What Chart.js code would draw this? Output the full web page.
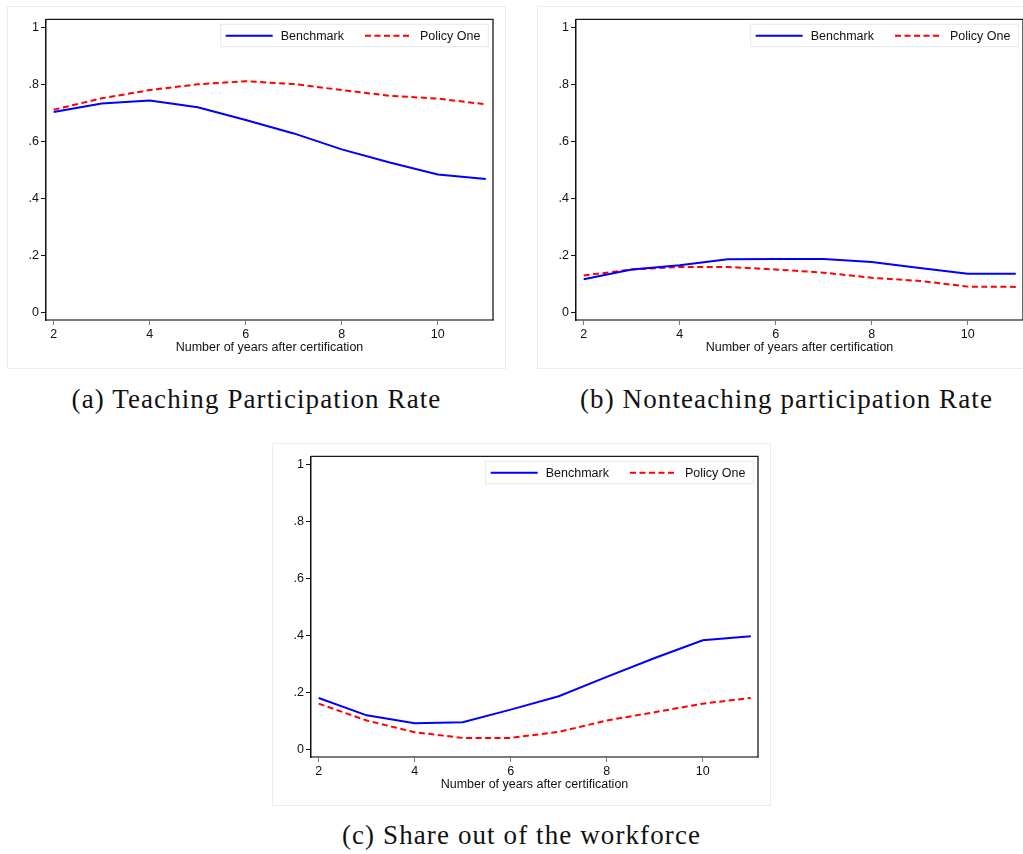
<!DOCTYPE html>
<html>
<head>
<meta charset="utf-8">
<script src="https://cdn.jsdelivr.net/npm/chart.js@4"></script>
<style>
  html, body { margin: 0; padding: 0; background: #fff; width: 1023px; height: 854px; overflow: hidden; }
  .panel { position: absolute; width: 499px; height: 363px; box-sizing: border-box; border: 1px solid #e9efef; }
  .panel canvas { position: absolute; left: -1px; top: -1px; }
  .cap { position: absolute; width: 499px; text-align: center; font-family: "Liberation Serif", serif; font-size: 27px; line-height: 32px; letter-spacing: 1.1px; color: #111; white-space: nowrap; }
</style>
</head>
<body>
<div class="panel" style="left:7px; top:6px;"><canvas id="cA" width="499" height="363"></canvas></div>
<div class="panel" style="left:537px; top:6px;"><canvas id="cB" width="499" height="363"></canvas></div>
<div class="panel" style="left:272px; top:443px;"><canvas id="cC" width="499" height="363"></canvas></div>
<div class="cap" style="left:7px; top:383px;">(a) Teaching Participation Rate</div>
<div class="cap" style="left:537px; top:383px;">(b) Nonteaching participation Rate</div>
<div class="cap" style="left:272px; top:819px;">(c) Share out of the workforce</div>
<script>
const years = [2, 3, 4, 5, 6, 7, 8, 9, 10, 11];
const teachBenchmark = [0.703, 0.733, 0.743, 0.720, 0.675, 0.628, 0.572, 0.526, 0.484, 0.468];
const teachPolicy = [0.711, 0.751, 0.780, 0.800, 0.811, 0.801, 0.780, 0.760, 0.750, 0.730];
const nonteachBenchmark = [0.117, 0.151, 0.166, 0.187, 0.188, 0.188, 0.177, 0.156, 0.136, 0.136];
const nonteachPolicy = [0.130, 0.151, 0.160, 0.160, 0.151, 0.140, 0.122, 0.111, 0.091, 0.090];
const outBenchmark = [0.181, 0.120, 0.092, 0.096, 0.140, 0.187, 0.255, 0.321, 0.383, 0.397];
const outPolicy = [0.161, 0.102, 0.061, 0.041, 0.041, 0.062, 0.102, 0.131, 0.161, 0.181];
const seriesNames = ['Benchmark', 'Policy One'];
const xTickValues = [2, 4, 6, 8, 10];
const yTickValues = [0, 0.2, 0.4, 0.6, 0.8, 1];
const yTickLabels = ['0', '.2', '.4', '.6', '.8', '1'];
const xTitle = 'Number of years after certification';

const FONT = '"Liberation Sans", Arial, Helvetica, sans-serif';

// Legend drawn inside the plot area (top-right), Stata style
const insideLegend = {
  id: 'insideLegend',
  afterDatasetsDraw(chart) {
    const ca = chart.chartArea;
    const ctx = chart.ctx;
    const r = ca.right, t = ca.top;
    ctx.save();
    // box
    ctx.fillStyle = '#fff';
    ctx.strokeStyle = '#e2eaea';
    ctx.lineWidth = 1;
    ctx.fillRect(r - 272.3, t + 5, 267.6, 22.4);
    ctx.strokeRect(r - 272.3, t + 5, 267.6, 22.4);
    const cy = t + 16.4;
    const items = [
      { lineFrom: -267.3, lineTo: -220.3, textX: -212.3 },
      { lineFrom: -128, lineTo: -81, textX: -73 }
    ];
    chart.data.datasets.forEach((ds, i) => {
      const it = items[i];
      ctx.strokeStyle = ds.borderColor;
      ctx.lineWidth = ds.borderWidth;
      ctx.setLineDash(ds.borderDash || []);
      ctx.beginPath();
      ctx.moveTo(r + it.lineFrom, cy);
      ctx.lineTo(r + it.lineTo, cy);
      ctx.stroke();
      ctx.setLineDash([]);
      ctx.fillStyle = '#111';
      ctx.font = '12.5px ' + FONT;
      ctx.textAlign = 'left';
      ctx.textBaseline = 'middle';
      ctx.fillText(ds.label, r + it.textX, cy + 0.5);
    });
    ctx.restore();
  },
  afterDraw(chart) {
    const ca = chart.chartArea;
    const ctx = chart.ctx;
    ctx.save();
    ctx.strokeStyle = '#1a1a1a';
    ctx.lineWidth = 1.3;
    ctx.beginPath();
    ctx.moveTo(ca.left, ca.top);
    ctx.lineTo(ca.right, ca.top);
    ctx.lineTo(ca.right, ca.bottom);
    ctx.stroke();
    ctx.restore();
  }
};

function pts(arr) { return years.map((x, i) => ({ x: x, y: arr[i] })); }

function makeChart(id, bench, policy) {
  new Chart(document.getElementById(id), {
    type: 'line',
    data: {
      datasets: [
        { label: seriesNames[0], data: pts(bench), borderColor: '#0000ff', backgroundColor: '#0000ff', borderWidth: 2, pointRadius: 0, tension: 0, fill: false },
        { label: seriesNames[1], data: pts(policy), borderColor: '#ff0000', backgroundColor: '#ff0000', borderWidth: 2, borderDash: [6, 3.5], pointRadius: 0, tension: 0, fill: false }
      ]
    },
    options: {
      responsive: false,
      animation: false,
      devicePixelRatio: 1,
      layout: { padding: { left: 0, top: 13.3, right: 13, bottom: 0 } },
      plugins: {
        legend: { display: false },
        tooltip: { enabled: false }
      },
      scales: {
        x: {
          type: 'linear',
          min: 1.84,
          max: 11.15,
          afterBuildTicks(s) { s.ticks = xTickValues.map(v => ({ value: v })); },
          afterFit(s) { s.height = 49; },
          grid: { drawOnChartArea: false, drawTicks: true, tickLength: 5, color: '#7a7a7a' },
          border: { display: true, color: '#7a7a7a', width: 2 },
          ticks: { padding: 2.5, color: '#111', font: { family: FONT, size: 12.5 }, maxRotation: 0, autoSkip: false },
          title: { display: true, text: xTitle, color: '#111', font: { family: FONT, size: 12.5 }, padding: { top: 0, bottom: 13.5 } }
        },
        y: {
          type: 'linear',
          min: -0.026,
          max: 1.028,
          afterBuildTicks(s) { s.ticks = yTickValues.map(v => ({ value: v })); },
          afterFit(s) { s.width = 39; },
          grid: { drawOnChartArea: false, drawTicks: true, tickLength: 5, color: '#111' },
          border: { display: true, color: '#111', width: 1.5 },
          ticks: {
            padding: 2,
            color: '#111',
            font: { family: FONT, size: 12.5 },
            autoSkip: false,
            callback(v) { const i = yTickValues.findIndex(t => Math.abs(t - v) < 1e-9); return i >= 0 ? yTickLabels[i] : ''; }
          }
        }
      }
    },
    plugins: [insideLegend]
  });
}

makeChart('cA', teachBenchmark, teachPolicy);
makeChart('cB', nonteachBenchmark, nonteachPolicy);
makeChart('cC', outBenchmark, outPolicy);
</script>
</body>
</html>
